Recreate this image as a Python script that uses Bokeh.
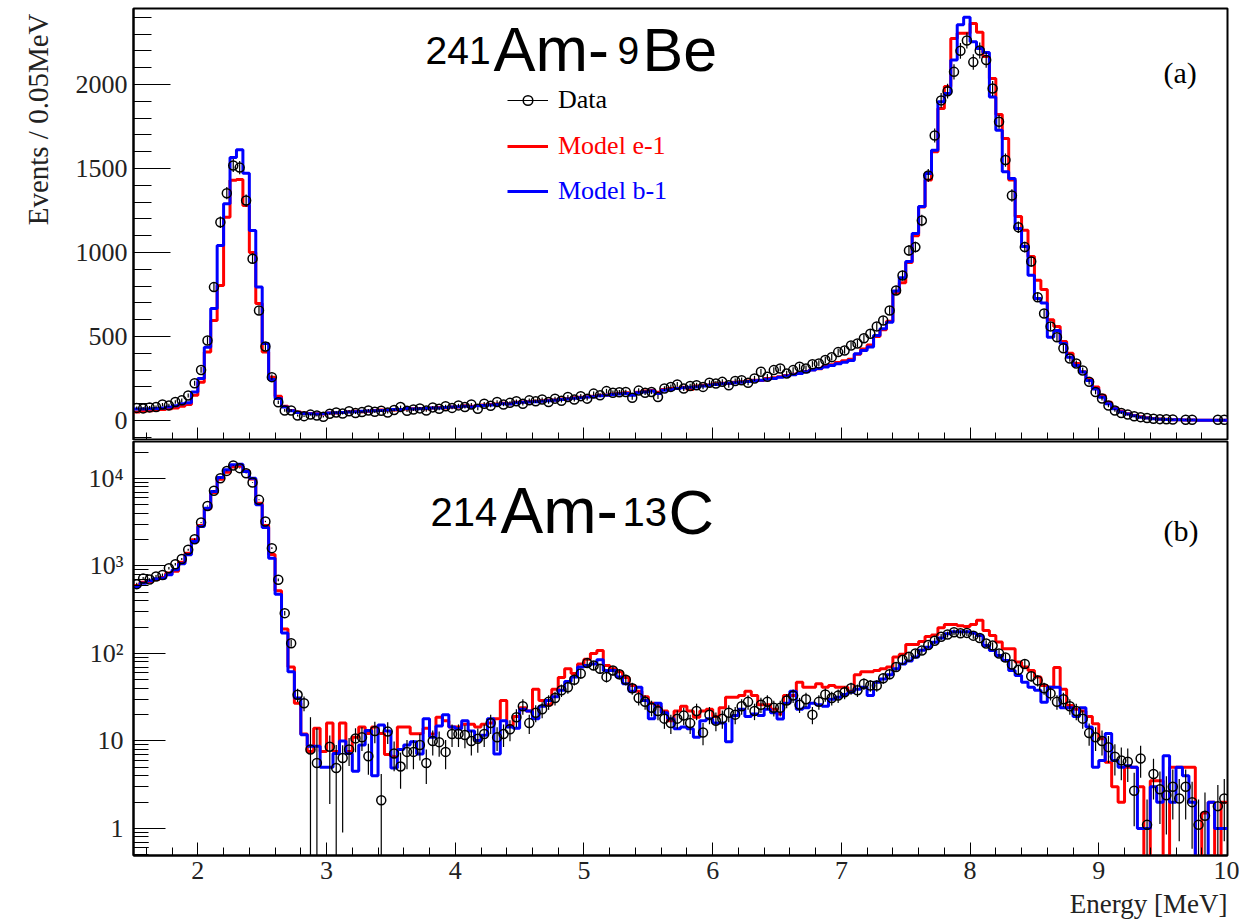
import math
from bokeh.plotting import figure
from bokeh.layouts import column
from bokeh.models import (Range1d, SingleIntervalTicker, FixedTicker, Label,
                          Legend, LegendItem, Title)
from bokeh.embed import file_html
from bokeh.resources import INLINE

# ---------------- binning ----------------
E_MIN, E_MAX, BIN_W, N_BINS = 1.5, 10.0, 0.05, 170
edges = [round(E_MIN + BIN_W * i, 3) for i in range(N_BINS + 1)]
centers = [round(E_MIN + BIN_W * (i + 0.5), 3) for i in range(N_BINS)]

# ---------------- panel (a): 241Am-9Be, events / 0.05 MeV ----------------
a_data = [75, 72, 78, 80, 95, 90, 110, 120, 149, 222,
          301, 476, 794, 1180, 1353, 1518, 1505, 1309, 963, 655,
          440, 258, 109, 60, 60, 30, 26, 35, 30, 22,
          40, 48, 42, 55, 45, 50, 60, 52, 58, 48,
          62, 80, 58, 65, 72, 60, 78, 70, 85, 75,
          90, 80, 95, 70, 100, 88, 110, 95, 105, 115,
          100, 120, 115, 125, 110, 130, 118, 140, 125, 145,
          130, 160, 150, 175, 165, 168, 170, 135, 178, 165,
          170, 140, 190, 200, 215, 190, 205, 210, 200, 225,
          220, 230, 210, 235, 240, 225, 250, 290, 260, 300,
          310, 280, 300, 320, 310, 335, 340, 360, 377, 407,
          417, 446, 458, 490, 516, 560, 595, 655, 774, 863,
          1012, 1032, 1190, 1458, 1696, 1905, 1960, 2075, 2200, 2262,
          2133, 2202, 2145, 1976, 1778, 1550, 1339, 1150, 1032, 946,
          734, 637, 560, 496, 430, 369, 339, 298, 230, 169,
          131, 89, 60, 45, 35, 25, 20, 15, 10, 8,
          7, 6, None, 5, 5, None, None, None, 4, 4]

a_model_e1 = [50, 55, 58, 62, 65, 70, 75, 85, 95, 150,
              228, 407, 595, 803, 1210, 1430, 1435, 1280, 1000, 696,
              407, 258, 145, 85, 60, 50, 45, 42, 40, 38,
              44, 45, 47, 52, 55, 52, 55, 60, 62, 62,
              63, 65, 68, 70, 72, 70, 74, 78, 75, 80,
              80, 88, 85, 90, 92, 95, 98, 102, 100, 108,
              110, 112, 115, 118, 120, 122, 128, 130, 135, 138,
              142, 145, 150, 152, 158, 160, 165, 155, 168, 175,
              178, 168, 185, 190, 192, 198, 185, 205, 210, 212,
              218, 222, 220, 228, 230, 235, 240, 238, 250, 255,
              260, 268, 275, 282, 292, 302, 308, 322, 332, 345,
              355, 365, 395, 425, 450, 500, 540, 590, 760, 820,
              940, 1100, 1270, 1431, 1600, 1857, 1988, 2274, 2304, 2304,
              2363, 2310, 2167, 2036, 1821, 1679, 1431, 1214, 1133, 976,
              835, 780, 600, 560, 470, 400, 340, 290, 245, 200,
              150, 108, 75, 55, 40, 30, 22, 16, 12, 9,
              7, 5, 4, 3, 3, 2, 2, 1, 1, 1]

a_model_b1 = [68, 68, 70, 72, 75, 80, 88, 100, 105, 169,
              250, 436, 667, 1042, 1290, 1565, 1611, 1472, 1131, 794,
              458, 244, 131, 80, 58, 48, 42, 40, 38, 40,
              45, 46, 48, 50, 52, 55, 57, 58, 60, 63,
              65, 66, 72, 68, 70, 72, 75, 74, 77, 80,
              82, 85, 80, 88, 90, 92, 95, 100, 98, 105,
              108, 110, 112, 115, 118, 120, 125, 128, 132, 135,
              140, 142, 148, 150, 155, 158, 160, 150, 165, 170,
              175, 160, 180, 185, 190, 195, 198, 200, 205, 210,
              215, 218, 222, 225, 228, 232, 236, 240, 245, 250,
              258, 265, 272, 280, 290, 300, 310, 318, 328, 338,
              347, 357, 397, 417, 437, 506, 546, 585, 770, 850,
              946, 1113, 1274, 1470, 1609, 1897, 1946, 2145, 2355, 2400,
              2254, 2214, 2190, 1926, 1728, 1480, 1440, 1143, 1035, 865,
              726, 700, 496, 536, 458, 377, 327, 288, 238, 188,
              139, 99, 70, 50, 38, 28, 20, 15, 11, 8,
              6, 5, 4, 3, 3, 2, 2, 1, 1, 1]

# ---------------- panel (b): 214Am-13C (log scale) ----------------
b_data = [620, 720, 700, 760, 790, 944, 1047, 1203, 1531, 2025,
          3137, 4860, 7228, 10080, 12220, 14070, 13130, 11490, 8990, 5700,
          3228, 1600, 695, 289, 131, 33.7, 27, 8, 5.6, None,
          8.6, 4.9, 6.4, 8, 10.7, 11, 6.7, 13, 2.1, 12.8,
          7.2, 5.1, 7.5, 7.5, 9, 5.6, 10, 9.7, 7.5, 12,
          12, 11.7, 10, 10.6, 12, 16, 11, 12, 13.6, 18.7,
          25, 16, 21, 23, 28, 31, 38, 41, 50, 59,
          78, 73, 67, 54, 64, 58, 50, 40, 31, 28,
          24, 22, 18, 16, 18, 19.5, 16, 22, 12.5, 20,
          17, 18, 21, 20, 25, 28, 22, 26, 28, 24,
          24, 29, 33, 26, 30, 20, 28, 34, 31, 33,
          36, 40, 38, 45, 43, 43, 52, 58, 70, 85,
          92, 100, 108, 125, 140, 155, 165, 175, 170, 172,
          160, 150, 130, 123, 100, 90, 75, 65, 76, 55,
          49, 40, 35, 28, 30, 25, 22, 18, 12.3, 11,
          10, 8.5, 6.6, 6, 5.8, 2.7, 6.3, 1.1, 4.2, 2.8,
          2.4, 3, 2.2, 3, 2, 1.1, 1.4, None, 1.8, 2.2]

# error-bar ends that differ from sqrt(N) (bin index: value)
b_err_low = {27: 0.0, 28: 0.0, 30: 1.9, 31: 0.0, 32: 0.9, 38: 0.0}
b_err_high = {27: 18.7, 28: 14.0, 31: 9.0, 38: 4.2}

b_model_e1 = [600, 650, 660, 700, 740, 830, 870, 1100, 1400, 2000,
              2900, 4500, 6900, 9800, 11800, 13500, 13800, 12200, 9900, 5200,
              2900, 1350, 520, 190, 70, 27, 12, 7.6, 14, 7.6,
              16, 7.6, 16, 7.6, 11, 14.4, 12.2, 14.4, 12.2, 7,
              6.6, 14.4, 14.4, 12.1, 12.1, 14, 12, 18.7, 17, 14.4,
              14.4, 15.5, 15.5, 14.4, 15.5, 16, 18, 29, 15, 19,
              24, 22, 39, 29, 26, 39, 53, 67, 59, 76,
              86, 100, 108, 73, 67, 62, 53, 43, 37, 32,
              27, 25, 22, 17, 22, 25, 22, 18.7, 22, 23,
              19, 24, 31.7, 31.7, 33, 37, 33, 26, 26, 23,
              20.4, 33, 33, 47, 41, 41, 45, 41, 43, 41,
              41, 37, 57, 62, 62, 64, 67, 70, 91, 98,
              127, 127, 137, 156, 163, 197, 214, 214, 207, 204,
              215, 240, 183, 161, 135, 113, 113, 80, 70, 64,
              54, 43, 41, 69, 39, 25.5, 23, 22, 19, 15.7,
              10.6, 5.7, 3.0, 2.0, 5.0, 5.0, 3.0, 0, 3.5, 3.5,
              0, 5, 5, 5, 5, 0, 1.5, 2, 0, 2]

b_model_b1 = [583, 636, 677, 713, 722, 793, 904, 1059, 1342, 1905,
              2826, 4582, 7100, 10270, 12560, 14320, 14580, 12020, 10090, 5000,
              2754, 1228, 476, 171, 62, 31, 11.8, 8.7, 8.7, 5.0,
              5.0, 7.2, 10, 7.2, 4.5, 9, 13.2, 4.0, 15.2, 13,
              4.9, 8, 9, 9.8, 7.1, 18, 11, 14.8, 20, 14.4,
              13.8, 17, 13, 10.1, 11.6, 18, 7.1, 17, 14.4, 14,
              23, 22, 18, 25, 29, 32, 38, 48, 54, 70,
              73, 76, 85, 64, 64, 54, 45, 37, 41, 29,
              18, 27, 21, 18, 13.8, 14.4, 13.8, 11, 17, 18,
              16, 16, 9.8, 19.6, 23, 19, 20.4, 19.6, 23, 21,
              17.8, 27, 37, 23, 24, 27, 26, 25, 30, 31.7,
              34, 36, 39, 41, 33, 47, 51, 57, 67, 76,
              82, 91, 109, 118, 134, 150, 168, 177, 177, 177,
              170, 161, 123, 108, 95, 83, 64, 56, 47, 41,
              38, 27.8, 41, 41, 24, 24, 19, 24, 14.4, 5.0,
              6.0, 12.2, 6.0, 5.0, 5.2, 5.0, 1.0, 1.0, 3.0, 2.0,
              6.8, 2.0, 5.0, 4.0, 2.0, 0, 0, 2.0, 1.0, 1.0]

LOG_FLOOR = 0.05   # empty bins drawn below the visible log range

SERIF = "Liberation Serif"
SANS = "Liberation Sans"
RED = "#ff0000"
BLUE = "#0000ff"

FRAME_L, FRAME_R = 133, 1227
TOP_FRAME_T, TOP_FRAME_B = 8, 440
BOT_FRAME_T, BOT_FRAME_B = 441, 855


def step_xy(vals, floor=None):
    ys = [(floor if (floor is not None and v <= 0) else v) for v in vals]
    return edges, ys + [ys[-1]]


def style_common(p):
    p.xgrid.visible = False
    p.ygrid.visible = False
    p.outline_line_color = "black"
    p.outline_line_width = 2
    p.background_fill_color = "white"
    p.border_fill_color = "white"


# ================= top panel =================
top = figure(width=1239, height=TOP_FRAME_B, x_range=Range1d(E_MIN, E_MAX),
             y_range=Range1d(-119, 2452), output_backend="svg",
             toolbar_location=None, min_border_left=FRAME_L,
             min_border_right=1239 - FRAME_R, min_border_top=TOP_FRAME_T,
             min_border_bottom=0)
style_common(top)

xa = top.xaxis[0]
xa.ticker = SingleIntervalTicker(interval=1, num_minor_ticks=5)
xa.major_label_text_font_size = "0px"
xa.major_label_text_color = None
xa.major_label_standoff = 0
xa.major_tick_in, xa.major_tick_out = 13, 0
xa.minor_tick_in, xa.minor_tick_out = 8, 0
xa.axis_line_width = 2

ya = top.yaxis[0]
ya.ticker = SingleIntervalTicker(interval=500, num_minor_ticks=5)
ya.major_tick_in, ya.major_tick_out = 37, 0
ya.minor_tick_in, ya.minor_tick_out = 18, 0
ya.major_label_text_font = SERIF
ya.major_label_text_font_size = "26px"
ya.major_label_text_color = "#222222"
ya.major_label_standoff = 6
ya.axis_line_width = 2

top.add_layout(Title(text="Events / 0.05MeV", align="right", text_font=SERIF,
                     text_font_size="29px", text_font_style="normal",
                     text_color="#222222", standoff=38, offset=5), "left")

sx, sy = step_xy(a_model_e1)
red_a = top.step(sx, sy, mode="after", line_color=RED, line_width=3)
sx, sy = step_xy(a_model_b1)
blue_a = top.step(sx, sy, mode="after", line_color=BLUE, line_width=3)

ax = [c for c, v in zip(centers, a_data) if v is not None]
av = [v for v in a_data if v is not None]
a_lo = [v - math.sqrt(v) for v in av]
a_hi = [v + math.sqrt(v) for v in av]
err_a = top.segment(x0=ax, y0=a_lo, x1=ax, y1=a_hi, line_color="black", line_width=1.2)
pts_a = top.scatter(ax, av, marker="circle", size=9, fill_color=None,
                    line_color="black", line_width=1.5)

# legend (three one-line legends so each label keeps its own colour)
for lab, rends, col, ybot in [("Data", [err_a, pts_a], "black", 325),
                              ("Model e-1", [red_a], RED, 279),
                              ("Model b-1", [blue_a], BLUE, 234)]:
    lg = Legend(items=[LegendItem(label=lab, renderers=rends)],
                location=(374, ybot), border_line_color=None,
                background_fill_alpha=0, label_text_font=SERIF,
                label_text_font_size="26px", label_text_color=col,
                glyph_width=41, glyph_height=24, label_height=24,
                label_standoff=10, padding=0, margin=0, spacing=0)
    top.add_layout(lg)


def add_label(p, frame_bottom, cx, cy, text, font, size, **kw):
    # cy is the page y of the bottom of the text box
    p.add_layout(Label(x=cx - FRAME_L, y=frame_bottom - cy, x_units="screen",
                       y_units="screen", text=text, text_font=font,
                       text_font_size=size, text_color="black",
                       text_baseline="bottom", **kw))


# title 241Am-9Be
add_label(top, TOP_FRAME_B, 425, 63, "241", SANS, "39px")
add_label(top, TOP_FRAME_B, 493, 83, "Am-", SANS, "63px")
add_label(top, TOP_FRAME_B, 617, 63, "9", SANS, "39px")
add_label(top, TOP_FRAME_B, 642, 83, "Be", SANS, "61px")
add_label(top, TOP_FRAME_B, 1163, 88, "(a)", SERIF, "30px")

# ================= bottom panel =================
bot_h = 924 - TOP_FRAME_B
bot = figure(width=1239, height=bot_h, x_range=top.x_range,
             y_range=Range1d(0.491, 26480), y_axis_type="log",
             output_backend="svg", toolbar_location=None,
             min_border_left=FRAME_L, min_border_right=1239 - FRAME_R,
             min_border_top=BOT_FRAME_T - TOP_FRAME_B,
             min_border_bottom=924 - BOT_FRAME_B)
style_common(bot)

bxa = bot.xaxis[0]
bxa.ticker = SingleIntervalTicker(interval=1, num_minor_ticks=5)
bxa.major_tick_in, bxa.major_tick_out = 13, 0
bxa.minor_tick_in, bxa.minor_tick_out = 8, 0
bxa.major_label_text_font = SERIF
bxa.major_label_text_font_size = "26px"
bxa.major_label_text_color = "#222222"
bxa.major_label_standoff = 6
bxa.axis_line_width = 2

bot.add_layout(Title(text="Energy [MeV]", align="right", text_font=SERIF,
                     text_font_size="27px", text_font_style="normal",
                     text_color="#222222", standoff=10), "below")

log_major = [1, 10, 100, 1000, 10000]
log_minor = [m * 10.0 ** k for k in range(-1, 5) for m in range(2, 10)
             if 0.491 <= m * 10.0 ** k <= 26480] + [0.5, 0.6, 0.7, 0.8, 0.9]
bya = bot.yaxis[0]
bya.ticker = FixedTicker(ticks=log_major, minor_ticks=sorted(set(log_minor)))
bya.major_label_overrides = {1: "1", 10: "10", 100: "10\u00b2",
                             1000: "10\u00b3", 10000: "10\u2074"}
bya.major_tick_in, bya.major_tick_out = 32, 0
bya.minor_tick_in, bya.minor_tick_out = 15, 0
bya.major_label_text_font = SERIF
bya.major_label_text_font_size = "26px"
bya.major_label_text_color = "#222222"
bya.major_label_standoff = 10
bya.axis_line_width = 2

sx, sy = step_xy(b_model_e1, LOG_FLOOR)
bot.step(sx, sy, mode="after", line_color=RED, line_width=3)
sx, sy = step_xy(b_model_b1, LOG_FLOOR)
bot.step(sx, sy, mode="after", line_color=BLUE, line_width=3)

bx, bv, blo, bhi = [], [], [], []
for i, (c, v) in enumerate(zip(centers, b_data)):
    if v is None:
        continue
    e = math.sqrt(v)
    lo = b_err_low.get(i, v - e)
    hi = b_err_high.get(i, v + e)
    bx.append(c)
    bv.append(v)
    blo.append(max(lo, LOG_FLOOR))
    bhi.append(hi)
bot.segment(x0=bx, y0=blo, x1=bx, y1=bhi, line_color="black", line_width=1.2)
bot.scatter(bx, bv, marker="circle", size=9, fill_color=None,
            line_color="black", line_width=1.5)

# title 214Am-13C
add_label(bot, BOT_FRAME_B, 430, 525, "214", SANS, "40px")
add_label(bot, BOT_FRAME_B, 500, 546, "Am-", SANS, "64px")
add_label(bot, BOT_FRAME_B, 622, 525, "13", SANS, "40px")
add_label(bot, BOT_FRAME_B, 668, 546, "C", SANS, "63px")
add_label(bot, BOT_FRAME_B, 1163, 546, "(b)", SERIF, "30px")

layout = column(top, bot, spacing=0)
open("out.html", "w").write(file_html(layout, INLINE))
